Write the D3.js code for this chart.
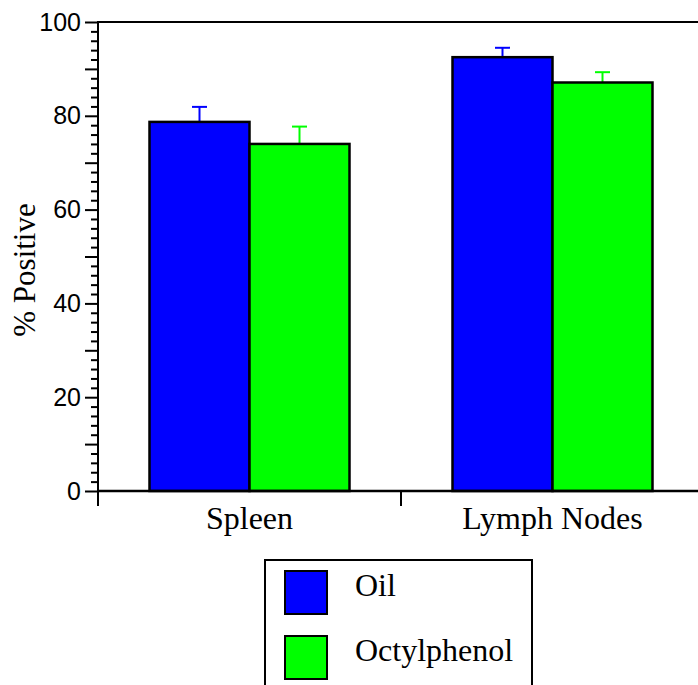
<!DOCTYPE html>
<html>
<head>
<meta charset="utf-8">
<script src="https://cdn.jsdelivr.net/npm/d3@7"></script>
<style>
  html, body { margin: 0; padding: 0; background: #fff; }
  svg { display: block; }
  .serif { font-family: "Liberation Serif", "Times New Roman", serif; }
  .sans { font-family: "Liberation Sans", Arial, sans-serif; }
</style>
</head>
<body>
<script>
const categories = ["Spleen", "Lymph Nodes"];
const series = ["Oil", "Octylphenol"];
const colors = ["#0000ff", "#00ff00"];
const values = {
  "Oil":         [78.7, 92.5],
  "Octylphenol": [74.0, 87.1]
};
const errors = {
  "Oil":         [3.2, 2.0],
  "Octylphenol": [3.7, 2.2]
};
const yTickLabels = [0, 20, 40, 60, 80, 100];

const W = 698, H = 685;
const svg = d3.select("body").append("svg").attr("width", W).attr("height", H);

const x0 = 98, x1 = 704, yTop = 22, yBot = 491;
const y = d3.scaleLinear().domain([0, 100]).range([yBot, yTop]);
const xGroup = d3.scaleBand().domain(categories).range([x0, x1]).paddingInner(0).paddingOuter(0);
const xBar = d3.scaleBand().domain(series).range([0, xGroup.bandwidth()]).paddingInner(0).paddingOuter(0.515);
const color = d3.scaleOrdinal().domain(series).range(colors);

const data = [];
categories.forEach((c, i) => series.forEach(s => data.push({cat: c, ser: s, v: values[s][i], e: errors[s][i]})));

const g = svg.append("g");
const eb = g.selectAll(".eb").data(data).enter().append("g");
eb.append("line")
  .attr("x1", d => xGroup(d.cat) + xBar(d.ser) + xBar.bandwidth() / 2)
  .attr("x2", d => xGroup(d.cat) + xBar(d.ser) + xBar.bandwidth() / 2)
  .attr("y1", d => y(d.v))
  .attr("y2", d => y(d.v + d.e))
  .attr("stroke", d => color(d.ser)).attr("stroke-width", 2);
eb.append("line")
  .attr("x1", d => xGroup(d.cat) + xBar(d.ser) + xBar.bandwidth() / 2 - 7.5)
  .attr("x2", d => xGroup(d.cat) + xBar(d.ser) + xBar.bandwidth() / 2 + 7.5)
  .attr("y1", d => y(d.v + d.e))
  .attr("y2", d => y(d.v + d.e))
  .attr("stroke", d => color(d.ser)).attr("stroke-width", 2);

g.selectAll(".bar").data(data).enter().append("rect")
  .attr("x", d => xGroup(d.cat) + xBar(d.ser))
  .attr("y", d => y(d.v))
  .attr("width", xBar.bandwidth())
  .attr("height", d => y(0) - y(d.v))
  .attr("fill", d => color(d.ser))
  .attr("stroke", "#000").attr("stroke-width", 2.5);

// top frame line
svg.append("line").attr("x1", x0).attr("x2", x1).attr("y1", yTop).attr("y2", yTop)
  .attr("stroke", "#000").attr("stroke-width", 2);

// y axis ticks
const minorTicks = d3.range(0, 101, 2).filter(v => v % 10 !== 0);
const majorTicks = d3.range(0, 101, 10);
const yAxisMinor = d3.axisLeft(y).tickValues(minorTicks).tickSize(7).tickFormat("");
const yAxisMajor = d3.axisLeft(y).tickValues(majorTicks).tickSize(13)
  .tickFormat(d => yTickLabels.includes(d) ? d : "");
const gy1 = svg.append("g").attr("transform", `translate(${x0},0)`).call(yAxisMinor);
const gy2 = svg.append("g").attr("transform", `translate(${x0},0)`).call(yAxisMajor);
[gy1, gy2].forEach(gg => {
  gg.attr("font-family", null).attr("font-size", null);
  gg.select(".domain").remove();
  gg.selectAll(".tick line").attr("stroke", "#000").attr("stroke-width", 2);
});
gy2.selectAll(".tick text")
  .attr("x", -17)
  .attr("class", "sans")
  .style("font-size", "25px").attr("fill", "#000");

// y axis line
svg.append("line").attr("x1", x0).attr("x2", x0).attr("y1", yTop - 1).attr("y2", yBot + 15)
  .attr("stroke", "#000").attr("stroke-width", 2);

// x axis
const xAxis = d3.axisBottom(xGroup).tickSize(0).tickPadding(0);
const gx = svg.append("g").attr("transform", `translate(0,${yBot})`).call(xAxis);
gx.attr("font-family", null).attr("font-size", null);
gx.select(".domain").remove();
gx.selectAll(".tick text")
  .attr("y", 38).attr("dy", 0)
  .attr("class", "serif")
  .style("font-size", "32px").attr("fill", "#000");
svg.append("line").attr("x1", x0).attr("x2", x1).attr("y1", yBot).attr("y2", yBot)
  .attr("stroke", "#000").attr("stroke-width", 2.5);
categories.slice(1).forEach(c => {
  svg.append("line").attr("x1", xGroup(c)).attr("x2", xGroup(c)).attr("y1", yBot).attr("y2", yBot + 15)
    .attr("stroke", "#000").attr("stroke-width", 2);
});

// y title
svg.append("text")
  .attr("transform", `translate(35,270) rotate(-90)`)
  .attr("text-anchor", "middle")
  .attr("class", "serif")
  .style("font-size", "31px").attr("fill", "#000")
  .text("% Positive");

// legend
const lg = svg.append("g");
lg.append("rect").attr("x", 265).attr("y", 560).attr("width", 267).attr("height", 140)
  .attr("fill", "none").attr("stroke", "#000").attr("stroke-width", 2);
series.forEach((s, i) => {
  const yy = 571 + i * 65;
  lg.append("rect").attr("x", 285).attr("y", yy).attr("width", 42).attr("height", 43)
    .attr("fill", color(s)).attr("stroke", "#000").attr("stroke-width", 2);
  lg.append("text").attr("x", 355).attr("y", yy + 25)
    .attr("class", "serif")
    .style("font-size", "32px").attr("fill", "#000").text(s);
});
</script>
</body>
</html>
